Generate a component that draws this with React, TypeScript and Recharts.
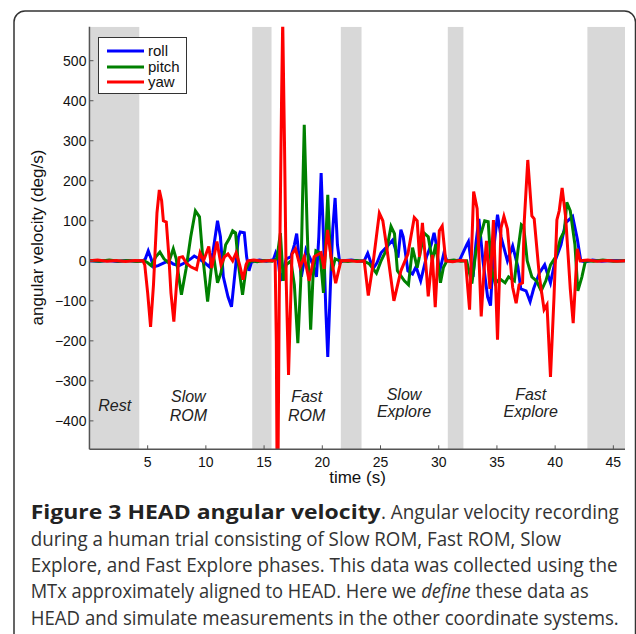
import React from "react"
import { LineChart, Line, XAxis, YAxis, ReferenceArea, Legend, Customized } from "recharts"

// [time (s), angular velocity (deg/s)] vertices
const roll: [number, number][] = [
  [0, 0], [0.8, -1], [1.6, 1], [2.4, -2], [3.2, 1], [4.0, -1], [4.6, 0],
  [4.8, 5], [5.05, 25], [5.3, 5], [5.5, -15], [5.9, -12], [6.4, -5], [6.8, 0], [7.2, -8], [7.7, -12],
  [8.2, -5], [8.7, 5], [9.0, 12], [9.4, 5], [9.9, -5], [10.3, -15], [10.6, 20], [11.0, 100], [11.25, 60],
  [11.5, -40], [11.9, -90], [12.2, -115], [12.5, -30], [12.8, 60], [12.95, 72], [13.3, 70], [13.5, 10],
  [13.7, -25], [13.9, -5], [14.2, 0], [14.6, 2], [15.2, -1], [15.8, 3],
  [16.0, 20], [16.2, 5], [16.4, -50], [16.6, -30], [16.9, 5], [17.3, 10], [17.6, 40], [17.8, 68], [18.0, 10],
  [18.2, -40], [18.45, 0], [18.6, 28], [18.9, 10], [19.2, -10], [19.5, -40], [19.7, 60], [19.9, 219],
  [20.1, 60], [20.3, -120], [20.47, -240], [20.7, -60], [20.9, 80], [21.1, 157], [21.3, 40], [21.5, -5],
  [21.8, 0], [22.5, 2], [23.2, -1], [23.6, 0],
  [23.9, 19], [24.35, -20], [24.7, -5], [25.05, 20], [25.6, 37], [26.05, 52], [26.5, 8], [26.75, 78],
  [26.95, 60], [27.35, -25], [27.75, -33], [28.05, -15], [28.45, -50], [28.95, 10], [29.35, 40], [29.6, 70],
  [29.8, 40], [30.05, -30], [30.45, 20], [30.7, 0], [31.2, -1], [31.8, 2],
  [32.4, 40], [32.55, 48], [32.95, -40], [33.2, 45], [33.45, 105], [33.8, 0], [34.2, -90], [34.45, -112],
  [34.7, 25], [35.05, 115], [35.35, 60], [35.9, 0], [36.35, 37], [36.8, -15], [37.05, -70], [37.5, -75],
  [37.85, -102], [38.15, -70], [38.65, -30], [39.1, -10], [39.6, -55], [40.0, 0], [40.5, 40], [40.9, 95],
  [41.5, 111], [41.9, 55], [42.2, 0], [42.6, -3], [43.2, 2], [44.0, -1], [44.8, 1], [46, 0],
]

const pitch: [number, number][] = [
  [0, 1], [0.9, -1], [1.7, 2], [2.5, -1], [3.3, 1], [4.1, -2], [4.7, 0],
  [5.0, -5], [5.3, -12], [5.7, 10], [6.05, 22], [6.4, 5], [6.8, -5], [7.2, 30], [7.45, 5], [7.9, -85],
  [8.3, -20], [8.7, 60], [9.1, 125], [9.45, 110], [9.7, 20], [10.15, -102], [10.5, -10], [10.7, 5],
  [11.0, -55], [11.3, -30], [11.7, 40], [12.0, 55], [12.3, 75], [12.55, 70], [12.8, -10], [13.15, -85],
  [13.45, -20], [13.8, 0], [14.4, -2], [15.0, 1], [15.7, -1],
  [16.1, 5], [16.4, 69], [16.65, -50], [16.9, -10], [17.3, 0], [17.6, -60], [17.9, -206], [18.15, -50],
  [18.3, 150], [18.45, 340], [18.7, 80], [19.0, -172], [19.2, -40], [19.45, 25], [19.8, 20], [20.1, -80],
  [20.3, 50], [20.47, 165], [20.65, 40], [20.85, -25], [21.1, 5], [21.5, 0], [22.2, -2], [22.9, 1], [23.6, -1],
  [24.05, -8], [24.65, -31], [25.05, 0], [25.55, 30], [25.9, 86], [26.2, 68], [26.45, -25], [27.05, -50],
  [27.4, -60], [27.75, 33], [28.15, -17], [28.75, 69], [29.1, 60], [29.45, 0], [29.75, 42], [30.15, -55],
  [30.4, -17], [30.7, 0], [31.3, 2], [31.9, -1],
  [32.4, 0], [32.85, -57], [33.2, 25], [33.6, 65], [33.95, 100], [34.25, 98], [34.5, -15], [34.85, -57],
  [35.25, -45], [35.7, -55], [36.0, -40], [36.5, -50], [36.8, 25], [37.1, 90], [37.3, 85], [37.6, 0],
  [38.0, -40], [38.4, -50], [38.8, -75], [39.2, -50], [39.6, -10], [40.05, 10], [40.45, 55], [40.8, 75],
  [41.0, 146], [41.3, 125], [41.7, 40], [41.95, -75], [42.3, -40], [42.6, 0], [43.3, -1], [44.1, 2],
  [45.0, -1], [46, 0],
]

const yaw: [number, number][] = [
  [0, 0], [0.7, 2], [1.5, -1], [2.3, 1], [3.1, -2], [3.9, 1], [4.6, 0],
  [4.75, -10], [5.0, -80], [5.25, -165], [5.5, -60], [5.8, 120], [6.0, 177], [6.2, 150], [6.35, 100],
  [6.6, 97], [6.8, 20], [7.0, -80], [7.25, -152], [7.5, -50], [7.7, 8], [8.0, 10], [8.3, -5], [8.7, -15],
  [9.2, -22], [9.5, 20], [9.8, 0], [10.25, 36], [10.5, -18], [10.95, 48], [11.3, -10], [11.6, 10],
  [11.9, 17], [12.3, 0], [12.6, 20], [12.9, -10], [13.2, -47], [13.45, -10], [13.6, 0],
  [14.1, 2], [14.8, -1], [15.5, 1], [15.95, 0],
  [16.05, -200], [16.15, -700], [16.3, -100], [16.5, 400], [16.6, 600], [16.75, 300], [16.9, -50],
  [17.1, -285], [17.4, 17], [17.7, 30], [18.1, -15], [18.45, 10], [18.87, -50], [19.3, 10], [19.9, 20],
  [20.15, -20], [20.45, 77], [20.75, 10], [21.15, -56], [21.6, 0], [22.3, 1], [23.0, -2], [23.6, 0],
  [23.95, -87], [24.3, -20], [24.9, 119], [25.2, 100], [25.6, 20], [26.15, -100], [26.75, -25], [27.35, 17],
  [27.9, 108], [28.15, 100], [28.35, 10], [28.6, 95], [28.95, -30], [29.1, -89], [29.45, 15], [29.7, -116],
  [30.05, 75], [30.3, 87], [30.6, 0], [31.2, -2], [31.8, 1], [32.3, 0],
  [32.65, -122], [33.0, 173], [33.3, 130], [33.65, -139], [33.9, -20], [34.1, 50], [34.4, -70], [34.7, 102],
  [35.05, -197], [35.35, 82], [35.6, 111], [35.9, 80], [36.35, -66], [36.65, -106], [36.9, -60], [37.2, -55],
  [37.35, 100], [37.65, 252], [38.0, 112], [38.2, 105], [38.65, -40], [39.05, -122], [39.3, -110],
  [39.6, -290], [39.9, -92], [40.15, 102], [40.35, 125], [40.6, 182], [40.9, 110], [41.3, -70],
  [41.55, -156], [41.9, 30], [42.15, 0], [42.8, 2], [43.6, -1], [44.5, 1], [45.3, -1], [46, 0],
]

const seriesNames = ["roll", "pitch", "yaw"]
const seriesColors = ["#0000ff", "#008000", "#ff0000"]

// grey shading for rest periods between phases
const restStart = [0, 13.98, 21.59, 30.78, 42.77]
const restEnd = [4.28, 15.64, 23.37, 32.12, 46]

const xTicks = [5, 10, 15, 20, 25, 30, 35, 40, 45]
const yTicks = [-400, -300, -200, -100, 0, 100, 200, 300, 400, 500]

const toPoints = (pts: [number, number][]) => pts.map(([t, v]) => ({ t, v }))

const fmtTick = (v: number) => (v < 0 ? "\u2212" + Math.abs(v) : String(v))

const phaseFont = { fontSize: 16, fontStyle: "italic" as const, fill: "#222", textAnchor: "middle" as const, fontFamily: "Liberation Sans" }

function LegendBox() {
  return (
    <div style={{ border: "1px solid #333", background: "#fff", width: 87, height: 55, position: "relative" }}>
      {seriesNames.map((name, i) => (
        <div
          key={name}
          style={{ position: "absolute", left: 8, top: 5 + i * 15.5, height: 16, display: "flex", alignItems: "center" }}
        >
          <svg width={37} height={6}>
            <line x1={0} y1={3} x2={37} y2={3} stroke={seriesColors[i]} strokeWidth={3} />
          </svg>
          <span style={{ marginLeft: 4, fontSize: 15, lineHeight: "16px", color: "#111", fontFamily: "Liberation Sans" }}>
            {name}
          </span>
        </div>
      ))}
    </div>
  )
}

const RestLabel = () => (
  <text x={114.7} y={410.5} {...phaseFont}>Rest</text>
)

function Decorations() {
  const cap = { fontSize: 19.5, fill: "#333", fontFamily: "Open Sans" }
  return (
    <g>
      <rect x={14} y={11} width={621.5} height={700} rx={11} fill="none" stroke="#333" strokeWidth={1.5} />
      <text x={43} y={237.5} transform="rotate(-90 43 237.5)" textAnchor="middle" fontSize={17} fill="#111" fontFamily="Liberation Sans">
        angular velocity (deg/s)
      </text>
      <text x={357.5} y={482.5} textAnchor="middle" fontSize={17} fill="#111" fontFamily="Liberation Sans">
        time (s)
      </text>
      <text x={188.3} y={401.5} {...phaseFont}>Slow</text>
      <text x={188.3} y={421} {...phaseFont}>ROM</text>
      <text x={306.7} y={401.5} {...phaseFont}>Fast</text>
      <text x={306.7} y={420.5} {...phaseFont}>ROM</text>
      <text x={404} y={400} {...phaseFont}>Slow</text>
      <text x={404} y={417} {...phaseFont}>Explore</text>
      <text x={530.7} y={400} {...phaseFont}>Fast</text>
      <text x={530.7} y={417} {...phaseFont}>Explore</text>

      <text x={30.7} y={519} textLength={350} lengthAdjust="spacingAndGlyphs" {...cap} fontWeight="bold" fill="#222">
        Figure 3 HEAD angular velocity
      </text>
      <text x={381} y={519} textLength={237.7} lengthAdjust="spacingAndGlyphs" {...cap}>
        . Angular velocity recording
      </text>
      <text x={30.7} y={545.5} textLength={530.3} lengthAdjust="spacingAndGlyphs" {...cap}>
        during a human trial consisting of Slow ROM, Fast ROM, Slow
      </text>
      <text x={30.7} y={571.8} textLength={587} lengthAdjust="spacingAndGlyphs" {...cap}>
        Explore, and Fast Explore phases. This data was collected using the
      </text>
      <text x={30.7} y={598.3} textLength={558} lengthAdjust="spacingAndGlyphs" {...cap}>
        MTx approximately aligned to HEAD. Here we <tspan fontStyle="italic">define</tspan> these data as
      </text>
      <text x={30.7} y={625} textLength={588} lengthAdjust="spacingAndGlyphs" {...cap}>
        HEAD and simulate measurements in the other coordinate systems.
      </text>
    </g>
  )
}

export default function App() {
  const tickStyle = { fill: "#111", fontSize: 14, fontFamily: "Liberation Sans" }
  const seriesData = [roll, pitch, yaw]
  return (
    <div style={{ position: "absolute", left: 0, top: 0, width: 636, height: 634, background: "#fff", fontFamily: "Liberation Sans" }}>
      <LineChart width={636} height={634} margin={{ top: 26.7, right: 11, bottom: 154.7, left: 29.45 }}>
        {restStart.map((s, i) => (
          <ReferenceArea
            key={s}
            x1={s}
            x2={restEnd[i]}
            fill="#d8d8d8"
            fillOpacity={1}
            stroke="none"
            ifOverflow="hidden"
            label={i === 0 ? RestLabel : undefined}
          />
        ))}
        <XAxis
          type="number"
          dataKey="t"
          domain={[0, 46]}
          ticks={xTicks}
          allowDataOverflow
          height={30}
          tickSize={-4}
          tickMargin={12}
          axisLine={{ stroke: "#555", strokeWidth: 1.5 }}
          tickLine={{ stroke: "#555" }}
          tick={tickStyle}
        />
        <YAxis
          type="number"
          domain={[-471, 585]}
          ticks={yTicks}
          allowDataOverflow
          width={60}
          tickSize={-4}
          tickMargin={7}
          tickFormatter={fmtTick}
          axisLine={{ stroke: "#555", strokeWidth: 1.5 }}
          tickLine={{ stroke: "#555" }}
          tick={tickStyle}
        />
        {seriesNames.map((name, i) => (
          <Line
            key={name}
            data={toPoints(seriesData[i])}
            dataKey="v"
            name={name}
            type="linear"
            stroke={seriesColors[i]}
            strokeWidth={3}
            dot={false}
            activeDot={false}
            isAnimationActive={false}
          />
        ))}
        <Legend
          layout="vertical"
          align="center"
          verticalAlign="middle"
          wrapperStyle={{ left: 98, top: 37, width: "auto", height: "auto" }}
          content={LegendBox}
        />
        <Customized component={<Decorations />} />
      </LineChart>
    </div>
  )
}
